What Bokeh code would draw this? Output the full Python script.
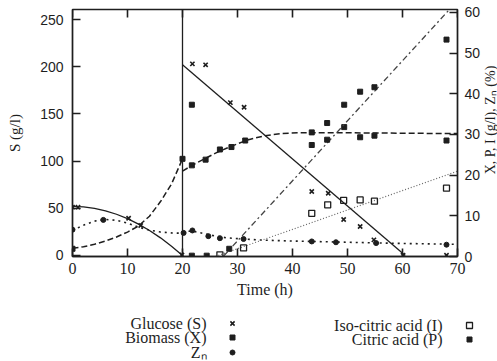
from bokeh.plotting import figure
from bokeh.models import Range1d, LinearAxis, Span, FixedTicker
from bokeh.layouts import column, row
from bokeh.embed import file_html
from bokeh.resources import INLINE
from bokeh.core.properties import value
import math

# ---------------- data ----------------
x_ticks = [0, 10, 20, 30, 40, 50, 60, 70]
s_ticks = [0, 50, 100, 150, 200, 250]
r_ticks = [0, 10, 20, 30, 40, 50, 60]
feed_time = 20

# Glucose S (g/l), left axis
glucose_curve_t1 = [0, 2, 4, 6, 8, 10, 12, 14, 16, 18, 20]
glucose_curve_s1 = [52, 51.5, 50, 47.3, 43.7, 39, 33.3, 26.5, 18.7, 9.9, 0]
glucose_curve_t2 = [20, 60.5]
glucose_curve_s2 = [202, 0]
glucose_t = [0, 1.0, 10.2, 12.4, 19.9, 21.8, 24.2, 28.7, 31.2, 43.5, 46.5, 49.3, 52.3, 54.8, 60.1, 68]
glucose_s = [51.2, 51.2, 39.5, 31.8, 0.5, 203, 202, 162, 157, 67.8, 66, 38.1, 30.7, 16.6, 0.3, 0.3]

# Biomass X (g/l), right axis
biomass_curve_t1 = [0, 2, 4, 6, 8, 10, 12, 14, 16, 18, 20]
biomass_curve_x1 = [2.0, 2.4, 3.0, 3.8, 4.8, 6.0, 7.5, 9.9, 13.5, 17.8, 24.0]
biomass_curve_t2 = [20, 22, 24, 26, 28, 30, 32, 35, 38, 41, 45, 50, 60, 70]
biomass_curve_x2 = [21.0, 22.6, 24.0, 25.4, 26.6, 27.7, 28.7, 29.7, 30.2, 30.4, 30.4, 30.4, 30.3, 30.2]
biomass_t = [0, 20, 21.7, 21.7, 24.2, 26.8, 28.9, 31.4, 43.5, 46.3, 49.4, 52.3, 54.9, 68]
biomass_x = [1.9, 24.0, 22.4, 37.3, 23.8, 26.3, 26.9, 28.5, 30.5, 32.8, 31.8, 29.3, 29.7, 28.5]

# Z_N (%), right axis
zn_curve_t1 = [0, 2, 4, 6, 8, 10, 12, 14, 16, 18, 20]
zn_curve_v1 = [6.4, 7.7, 8.7, 9.1, 8.9, 8.2, 7.2, 6.5, 6.0, 5.8, 5.7]
zn_curve_t2 = [20, 22, 24, 26, 28, 31, 35, 40, 50, 60, 70]
zn_curve_v2 = [6.2, 6.2, 5.6, 5.0, 4.6, 4.3, 4.0, 3.8, 3.5, 3.2, 3.0]
zn_t = [0, 5.6, 20.2, 21.8, 24.7, 26.8, 31.1, 43.5, 47.9, 55.2, 68]
zn_v = [6.6, 9.0, 5.8, 6.4, 5.0, 4.5, 4.3, 3.7, 3.5, 3.3, 2.9]

# Iso-citric acid I (g/l), right axis
iso_curve_t = [26, 70.5]
iso_curve_v = [0, 21.2]
iso_t = [26.8, 31.1, 43.5, 46.4, 49.3, 52.3, 54.9, 68]
iso_v = [0.4, 2.1, 10.6, 12.7, 13.8, 13.9, 13.6, 16.8]

# Citric acid P (g/l), right axis
citric_curve_t = [27.4, 68.4]
citric_curve_v = [0, 60.5]
citric_t = [21.7, 24.4, 28.5, 43.5, 46.3, 49.4, 52.3, 54.9, 68]
citric_v = [0.2, 0.2, 1.9, 27.4, 28.7, 37.3, 40.5, 41.6, 53.3]

right_label = "X, P, I (g/l), Z\u2099 (%)"
legend_left = ["Glucose (S)", "Biomass (X)", "Z\u2099"]
legend_right = ["Iso-citric acid (I)", "Citric acid (P)"]

# ---------------- styling ----------------
INK = "#1e1e1e"
SERIF = "Liberation Serif"
SANS = "Liberation Sans"

MAIN_W, MAIN_H = 483, 304
FRAME_H = MAIN_H - 9 - 48
S_RANGE = (-1.06, 260.6)
TICK_PX = 8

p = figure(width=MAIN_W, height=MAIN_H, x_range=Range1d(0, 70), y_range=Range1d(*S_RANGE),
           output_backend="svg", toolbar_location=None,
           min_border_left=72, min_border_right=22, min_border_top=9, min_border_bottom=48)
p.extra_y_ranges = {"r": Range1d(0, 60.7)}
p.grid.visible = False
p.outline_line_color = INK
p.outline_line_width = 1.4
p.background_fill_color = "white"
p.border_fill_color = "white"

xa = p.below[0]
ya = p.left[0]
right = LinearAxis(y_range_name="r")
p.add_layout(right, "right")

xa.ticker = FixedTicker(ticks=x_ticks)
ya.ticker = FixedTicker(ticks=s_ticks)
right.ticker = FixedTicker(ticks=r_ticks)

for ax in (xa, ya, right):
    ax.major_tick_in = TICK_PX
    ax.major_tick_out = 0
    ax.minor_tick_in = 0
    ax.minor_tick_out = 0
    ax.axis_line_color = INK
    ax.axis_line_width = 1.4
    ax.major_tick_line_color = INK
    ax.major_tick_line_width = 1.6
    ax.major_label_text_color = INK

xa.major_label_text_font = SERIF
xa.major_label_text_font_size = "16px"
xa.major_label_standoff = 6
xa.axis_label = "Time (h)"
xa.axis_label_text_font = SERIF
xa.axis_label_text_font_size = "16px"
xa.axis_label_text_font_style = "normal"
xa.axis_label_text_color = INK
xa.axis_label_standoff = 4

ya.major_label_text_font = SANS
ya.major_label_text_font_size = "14px"
ya.major_label_standoff = 9
ya.axis_label = "S (g/l)"
ya.axis_label_text_font = SERIF
ya.axis_label_text_font_size = "15px"
ya.axis_label_text_font_style = "normal"
ya.axis_label_text_color = INK
ya.axis_label_standoff = 14

right.major_label_text_font = SANS
right.major_label_text_font_size = "14px"
right.major_label_standoff = 7

# inward ticks along the top edge, same length as the axis ticks
tick_units = TICK_PX * (S_RANGE[1] - S_RANGE[0]) / FRAME_H
p.segment(x0=x_ticks, y0=[S_RANGE[1]] * len(x_ticks), x1=x_ticks,
          y1=[S_RANGE[1] - tick_units] * len(x_ticks), line_color=INK, line_width=1.6)

p.add_layout(Span(location=feed_time, dimension="height", line_color=INK, line_width=1.3))

# glucose
p.line(glucose_curve_t1, glucose_curve_s1, line_color=INK, line_width=1.3)
p.line(glucose_curve_t2, glucose_curve_s2, line_color=INK, line_width=1.3)
p.scatter(glucose_t, glucose_s, marker="x", size=6, line_color=INK, line_width=1.6)

# biomass
p.line(biomass_curve_t1, biomass_curve_x1, y_range_name="r", line_color=INK, line_width=1.5, line_dash="6 3")
p.line(biomass_curve_t2, biomass_curve_x2, y_range_name="r", line_color=INK, line_width=1.5, line_dash="6 3")
p.scatter(biomass_t, biomass_x, y_range_name="r", marker="square", size=5, fill_color=INK, line_color=INK)

# Z_N
p.line(zn_curve_t1, zn_curve_v1, y_range_name="r", line_color=INK, line_width=1.6, line_dash="2 4")
p.line(zn_curve_t2, zn_curve_v2, y_range_name="r", line_color=INK, line_width=1.6, line_dash="2 4")
p.scatter(zn_t, zn_v, y_range_name="r", marker="circle", size=5, fill_color=INK, line_color=INK)

# iso-citric
p.line(iso_curve_t, iso_curve_v, y_range_name="r", line_color="#666666", line_width=1.2, line_dash="1 2")
p.scatter(iso_t, iso_v, y_range_name="r", marker="square", size=6, fill_color=None, line_color=INK, line_width=1.3)

# citric
p.line(citric_curve_t, citric_curve_v, y_range_name="r", line_color="#444444", line_width=1.3, line_dash="6 3 2 3")
p.scatter(citric_t, citric_v, y_range_name="r", marker="square", size=5, fill_color=INK, line_color=INK)

# ---------------- right axis title (reads bottom to top) ----------------
SIDE_W = 497 - MAIN_W
side = figure(width=SIDE_W, height=MAIN_H, x_range=Range1d(0, SIDE_W), y_range=Range1d(0, MAIN_H),
              output_backend="svg", toolbar_location=None, x_axis_location=None, y_axis_location=None,
              min_border_left=0, min_border_right=0, min_border_top=0, min_border_bottom=0)
side.grid.visible = False
side.outline_line_color = None
side.text(x=[SIDE_W / 2], y=[MAIN_H - 136], text=[right_label], angle=math.pi / 2,
          text_align="center", text_baseline="middle", text_font=value(SERIF),
          text_font_size="14px", text_color=INK)

# ---------------- legend panel ----------------
LG_H = 361 - MAIN_H
lg = figure(width=497, height=LG_H, x_range=Range1d(0, 497), y_range=Range1d(LG_H, 0),
            output_backend="svg", toolbar_location=None, x_axis_location=None, y_axis_location=None,
            min_border_left=0, min_border_right=0, min_border_top=0, min_border_bottom=0)
lg.grid.visible = False
lg.outline_line_color = None
rows_l = [19, 33, 48]
rows_r = [21, 35]
lg.text(x=[206] * 3, y=rows_l, text=legend_left, text_align="right", text_baseline="middle",
        text_font=value(SERIF), text_font_size="16px", text_color=INK)
lg.text(x=[442] * 2, y=rows_r, text=legend_right, text_align="right", text_baseline="middle",
        text_font=value(SERIF), text_font_size="16px", text_color=INK)
lg.scatter([232], [rows_l[0]], marker="x", size=6, line_color=INK, line_width=1.6)
lg.scatter([232], [rows_l[1]], marker="square", size=5, fill_color=INK, line_color=INK)
lg.scatter([232], [rows_l[2]], marker="circle", size=5, fill_color=INK, line_color=INK)
lg.scatter([469], [rows_r[0]], marker="square", size=6, fill_color=None, line_color=INK, line_width=1.3)
lg.scatter([469], [rows_r[1]], marker="square", size=5, fill_color=INK, line_color=INK)

layout = column(row(p, side, spacing=0), lg, spacing=0)
open("out.html", "w").write(file_html(layout, INLINE))
